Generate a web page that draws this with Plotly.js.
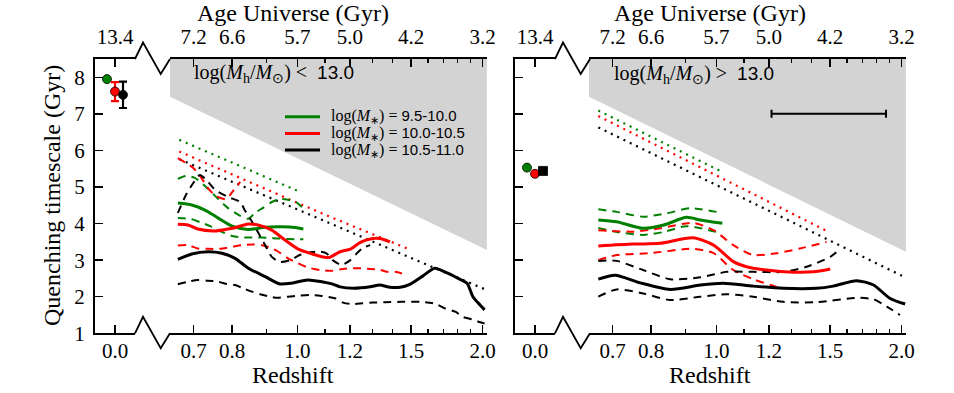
<!DOCTYPE html>
<html>
<head>
<meta charset="utf-8">
<script src="https://cdn.plot.ly/plotly-3.0.1.min.js"></script>
<style>
  html, body { margin: 0; padding: 0; background: #fff; }
  #chart { width: 954px; height: 393px; }
</style>
</head>
<body>
<div id="chart"></div>
<script>
// ---- data: x = age of the Universe (Gyr), y = quenching timescale (Gyr) ----
const zTicks = [0.7, 0.8, 1.0, 1.2, 1.5, 2.0];
const zTickLabels = ['0.7', '0.8', '1.0', '1.2', '1.5', '2.0'];
const zMinor = [0.9, 1.1, 1.3, 1.4, 1.6, 1.7, 1.8, 1.9];
const ageLabels = ['7.2', '6.6', '5.7', '5.0', '4.2', '3.2'];

const massBins = ['9.5-10.0', '10.0-10.5', '10.5-11.0'];
const binColors = ['#008000', '#ff0000', '#000000'];

// log(Mh/Msun) < 13.0
const lowGreenDot = [[7.36,6.29],[5.72,4.87]];
const lowRedDot = [[7.36,5.97],[5.42,4.28],[4.23,3.30]];
const lowBlackDot = [[7.36,5.76],[3.17,2.18]];

const lowGreenSolid = [[7.38,4.56],[7.19,4.51],[7.01,4.37],[6.83,4.15],[6.64,3.93],[6.42,3.84],[6.19,3.90],[5.96,3.91],[5.78,3.89],[5.67,3.85]];
const lowGreenUp = [[7.38,5.22],[7.27,5.30],[7.15,5.25],[7.01,5.03],[6.87,4.75],[6.70,4.43],[6.53,4.21],[6.42,4.13],[6.33,4.29],[6.22,4.43],[6.10,4.59],[5.99,4.67],[5.88,4.65],[5.77,4.59],[5.69,4.45]];
const lowGreenLo = [[7.38,4.15],[7.21,4.13],[7.08,4.04],[6.94,3.93],[6.81,3.80],[6.64,3.66],[6.47,3.62],[6.23,3.62],[5.99,3.59],[5.76,3.57],[5.67,3.57]];

const lowRedSolid = [[7.38,3.98],[7.24,3.96],[7.11,3.85],[6.87,3.80],[6.64,3.87],[6.42,3.99],[6.29,3.96],[6.10,3.82],[5.92,3.55],[5.74,3.30],[5.55,3.17],[5.38,3.08],[5.31,3.08],[5.17,3.23],[5.03,3.30],[4.90,3.48],[4.76,3.58],[4.63,3.59],[4.49,3.50]];
const lowRedUp = [[7.38,5.79],[7.27,5.66],[7.17,5.52],[7.06,5.25],[6.97,4.97],[6.86,4.75],[6.72,4.67],[6.64,4.86],[6.53,5.14]];
const lowRedLo = [[7.38,3.40],[7.24,3.41],[7.11,3.32],[6.97,3.31],[6.81,3.31],[6.63,3.37],[6.51,3.41],[6.36,3.43],[6.23,3.41],[6.10,3.32],[6.01,3.23],[5.88,3.05],[5.74,2.91],[5.61,2.80],[5.44,2.73],[5.28,2.71],[5.13,2.76],[4.94,2.78],[4.76,2.76],[4.63,2.74],[4.53,2.68],[4.42,2.68],[4.29,2.61]];

const lowBlackSolid = [[7.38,3.02],[7.19,3.17],[6.97,3.23],[6.78,3.19],[6.60,3.05],[6.42,2.78],[6.19,2.55],[5.99,2.35],[5.83,2.37],[5.61,2.46],[5.42,2.41],[5.28,2.35],[5.17,2.27],[4.99,2.23],[4.76,2.27],[4.63,2.32],[4.49,2.26],[4.35,2.26],[4.22,2.34],[4.04,2.57],[3.88,2.78],[3.71,2.65],[3.56,2.50],[3.44,2.37],[3.36,2.00],[3.26,1.77],[3.20,1.64]];
const lowBlackUp = [[7.38,4.29],[7.27,4.78],[7.17,5.11],[7.08,5.33],[6.99,5.19],[6.87,4.92],[6.70,4.73],[6.53,4.59],[6.47,4.37],[6.40,4.15],[6.29,3.77],[6.19,3.41],[6.10,3.09],[5.99,2.95],[5.85,3.00],[5.72,3.14],[5.55,3.22],[5.44,3.23],[5.35,3.18],[5.27,3.00],[5.15,2.87],[5.03,3.00],[4.94,3.19],[4.86,3.33],[4.76,3.41]];
const lowBlackLo = [[7.38,2.34],[7.24,2.41],[7.11,2.46],[6.98,2.44],[6.83,2.41],[6.71,2.35],[6.60,2.32],[6.49,2.23],[6.37,2.14],[6.26,2.07],[6.12,2.00],[6.02,1.97],[5.88,2.00],[5.74,2.03],[5.58,2.05],[5.42,2.02],[5.24,1.96],[5.13,1.84],[5.01,1.80],[4.86,1.82],[4.72,1.84],[4.56,1.85],[4.35,1.86],[4.08,1.86],[3.92,1.83],[3.85,1.79],[3.74,1.68],[3.60,1.59],[3.50,1.45],[3.37,1.38],[3.26,1.30],[3.20,1.27]];

// log(Mh/Msun) > 13.0
const highGreenDot = [[7.36,7.09],[5.68,5.42]];
const highRedDot = [[7.36,6.94],[4.23,3.78]];
const highBlackDot = [[7.36,6.63],[3.18,2.53]];

const highGreenSolid = [[7.36,4.10],[7.11,4.05],[6.75,3.87],[6.47,3.96],[6.16,4.17],[5.97,4.10],[5.67,4.01]];
const highGreenUp = [[7.36,4.39],[7.11,4.32],[6.75,4.19],[6.43,4.28],[6.11,4.42],[5.75,4.32]];
const highGreenLo = [[7.36,3.88],[7.11,3.77],[6.75,3.69],[6.47,3.77],[6.16,3.93],[5.75,3.77]];

const highRedSolid = [[7.36,3.39],[6.88,3.44],[6.52,3.46],[6.07,3.61],[5.79,3.41],[5.52,2.96],[5.34,2.82],[5.07,2.73],[4.70,2.67],[4.43,2.68],[4.20,2.76]];
const highRedUp = [[7.36,3.82],[6.88,3.78],[6.52,3.87],[6.07,4.02],[5.79,3.82],[5.52,3.41],[5.25,3.14],[4.93,3.19],[4.61,3.32],[4.25,3.50]];
const highRedLo = [[7.36,3.00],[7.11,3.14],[6.66,3.19],[6.07,3.31],[5.79,3.19],[5.52,2.73],[5.25,2.48],[4.93,2.27],[4.84,2.23]];

const highBlackSolid = [[7.36,2.48],[7.13,2.59],[6.79,2.38],[6.38,2.20],[5.97,2.32],[5.66,2.37],[5.25,2.29],[4.84,2.23],[4.39,2.23],[4.16,2.29],[3.84,2.44],[3.61,2.32],[3.39,1.96],[3.18,1.80]];
const highBlackUp = [[7.36,2.98],[7.11,2.98],[6.75,2.73],[6.38,2.48],[5.97,2.53],[5.61,2.68],[5.25,2.68],[4.84,2.68],[4.52,2.82],[4.20,3.09],[4.11,3.23]];
const highBlackLo = [[7.36,2.00],[7.11,2.20],[6.75,2.09],[6.38,1.91],[5.97,2.00],[5.61,2.07],[5.25,2.00],[4.84,1.86],[4.39,1.85],[3.84,1.97],[3.61,1.93],[3.43,1.73],[3.25,1.50]];

// z = 0 reference points (offset slightly in z so they do not overlap)
const zeroOffset = [-0.04, 0, 0.04];
const lowZeroTau = [7.95, 7.61, 7.52];
const lowZeroErr = [0, 0.26, 0.36];
const highZeroTau = [5.53, 5.36, 5.44];
const highZeroSymbols = ['circle', 'circle', 'square'];

// age-of-universe limit (grey, excluded region)
const limitAge = [7.49, 3.17];
const lowLimitTau = [7.47, 3.28];
const highLimitTau = [7.47, 3.23];

// typical error bar, right panel
const typErrAge = [4.22];
const typErrTau = [7.0];
const typErrHalf = [0.78];

// ---- helpers ----
// flat LCDM, H0 = 70, Om = 0.3
function ageAt(z) {
  return 11.131 * Math.asinh(1.52753 * Math.pow(1 + z, -1.5));
}
const W = 954, H = 393;
const fx = p => p / W;
const fy = p => 1 - p / H;

const serif = 'Liberation Serif';
const sans = 'Liberation Sans';
const xRange = [7.487, 3.168];
const zeroRange = [-0.1, 0.1];
const yRange = [1, 8.5];

function curve(pts, color, kind, xa, ya) {
  const line = {color: color};
  if (kind === 'solid') { line.width = 3; line.shape = 'spline'; line.smoothing = 0.7; }
  if (kind === 'dash') { line.width = 2; line.dash = '8px,6px'; line.shape = 'spline'; line.smoothing = 0.7; }
  if (kind === 'dot') { line.width = 2.2; line.dash = '2px,5px'; }
  return {x: pts.map(p => p[0]), y: pts.map(p => p[1]), mode: 'lines', line: line,
          xaxis: xa, yaxis: ya, showlegend: false, hoverinfo: 'skip'};
}

function limitFill(tau, xa, ya) {
  return {x: [limitAge[0], limitAge[1], limitAge[1], limitAge[0]],
          y: [tau[0], tau[1], yRange[1], yRange[1]],
          fill: 'toself', fillcolor: '#d3d3d3', mode: 'lines', line: {width: 0},
          xaxis: xa, yaxis: ya, showlegend: false, hoverinfo: 'skip'};
}

const traces = [];
traces.push(limitFill(lowLimitTau, 'x', 'y'));
traces.push(limitFill(highLimitTau, 'x5', 'y3'));

const lowSets = [
  [lowGreenDot, lowGreenUp, lowGreenLo, lowGreenSolid],
  [lowRedDot, lowRedUp, lowRedLo, lowRedSolid],
  [lowBlackDot, lowBlackUp, lowBlackLo, lowBlackSolid]
];
const highSets = [
  [highGreenDot, highGreenUp, highGreenLo, highGreenSolid],
  [highRedDot, highRedUp, highRedLo, highRedSolid],
  [highBlackDot, highBlackUp, highBlackLo, highBlackSolid]
];

[[lowSets, 'x', 'y'], [highSets, 'x5', 'y3']].forEach(([sets, xa, ya]) => {
  sets.forEach((s, i) => traces.push(curve(s[0], binColors[i], 'dot', xa, ya)));
  sets.forEach((s, i) => {
    traces.push(curve(s[1], binColors[i], 'dash', xa, ya));
    traces.push(curve(s[2], binColors[i], 'dash', xa, ya));
  });
  sets.forEach((s, i) => traces.push(curve(s[3], binColors[i], 'solid', xa, ya)));
});

// z = 0 points
binColors.forEach((c, i) => {
  const t = {x: [zeroOffset[i]], y: [lowZeroTau[i]], mode: 'markers', xaxis: 'x2', yaxis: 'y',
    marker: {color: c, size: 9, symbol: 'circle', line: {color: '#000', width: 0.8}},
    showlegend: false, hoverinfo: 'skip'};
  if (lowZeroErr[i] > 0) {
    t.error_y = {type: 'data', array: [lowZeroErr[i]], color: c, thickness: 2.2, width: 4};
  }
  traces.push(t);
  traces.push({x: [zeroOffset[i]], y: [highZeroTau[i]], mode: 'markers', xaxis: 'x6', yaxis: 'y3',
    marker: {color: c, size: 9, symbol: highZeroSymbols[i], line: {color: '#000', width: 0.8}},
    showlegend: false, hoverinfo: 'skip'});
});

// typical uncertainty
traces.push({x: typErrAge, y: typErrTau, mode: 'markers', xaxis: 'x5', yaxis: 'y3',
  marker: {color: 'rgba(0,0,0,0)', size: 2},
  error_x: {type: 'data', array: typErrHalf, color: '#000', thickness: 2, width: 4},
  showlegend: false, hoverinfo: 'skip'});

// empty traces so the top (age) axes get drawn
[['x3', 'y'], ['x4', 'y'], ['x7', 'y3'], ['x8', 'y3']].forEach(([xa, ya]) =>
  traces.push({x: [], y: [], mode: 'markers', xaxis: xa, yaxis: ya, showlegend: false, hoverinfo: 'skip'}));

// ---- axes ----
const tickFont = {family: serif, size: 21, color: '#000'};
const zTickAges = zTicks.map(ageAt);
const zMinorAges = zMinor.map(ageAt);

function mainX(domain, anchor) {
  return {domain: domain, range: xRange, anchor: anchor,
    tickmode: 'array', tickvals: zTickAges, ticktext: zTickLabels,
    ticks: 'inside', ticklen: 8, tickwidth: 1.5, tickcolor: '#000',
    minor: {tickmode: 'array', tickvals: zMinorAges, ticks: 'inside', ticklen: 4, tickwidth: 1.2, tickcolor: '#000'},
    showline: true, linewidth: 2, linecolor: '#000', mirror: 'allticks',
    showgrid: false, zeroline: false, tickfont: tickFont, ticklabelstandoff: -3};
}
function topX(over, anchor, range, vals, text) {
  return {overlaying: over, side: 'top', anchor: anchor, range: range,
    tickmode: 'array', tickvals: vals, ticktext: text, ticks: '',
    showline: false, showgrid: false, zeroline: false, tickfont: tickFont, ticklabelstandoff: 10};
}
function insetX(domain, anchor) {
  return {domain: domain, range: zeroRange, anchor: anchor,
    tickmode: 'array', tickvals: [0], ticktext: ['0.0'],
    ticks: 'inside', ticklen: 8, tickwidth: 1.5, tickcolor: '#000',
    showline: true, linewidth: 2, linecolor: '#000', mirror: 'allticks',
    showgrid: false, zeroline: false, tickfont: tickFont, ticklabelstandoff: -3};
}
function yAx(anchor, side, labels, over) {
  const a = {range: yRange, anchor: anchor, side: side,
    tickmode: 'array', tickvals: [1, 2, 3, 4, 5, 6, 7, 8],
    ticks: 'inside', ticklen: 8, tickwidth: 1.5, tickcolor: '#000',
    showline: true, linewidth: 2, linecolor: '#000',
    showgrid: false, zeroline: false, showticklabels: labels, tickfont: tickFont, ticklabelstandoff: 4};
  if (over) a.overlaying = over; else a.domain = [fy(333.3), fy(59)];
  return a;
}

// ---- decorations: axis breaks, titles, legend ----
function zig(x0, y0) {
  const pts = [[x0, y0], [x0 + 8, y0 - 16.5], [x0 + 25.7, y0 + 15], [x0 + 35, y0]];
  return {type: 'path', xref: 'paper', yref: 'paper',
    path: 'M' + pts.map(p => fx(p[0]).toFixed(5) + ',' + fy(p[1]).toFixed(5)).join('L'),
    line: {color: '#000', width: 1.8}};
}
const shapes = [zig(135, 59), zig(135, 333.3), zig(555, 59), zig(555, 333.3)];

const legendY = [116.7, 133.5, 150];
binColors.forEach((c, i) => shapes.push({type: 'line', xref: 'paper', yref: 'paper',
  x0: fx(285), x1: fx(320), y0: fy(legendY[i]), y1: fy(legendY[i]), line: {color: c, width: 3}}));

function note(x, y, text, size, extra) {
  return Object.assign({xref: 'paper', yref: 'paper', x: fx(x), y: fy(y), text: text, showarrow: false,
    xanchor: 'center', yanchor: 'middle',
    font: {family: serif, size: size, color: '#000'}}, extra || {});
}
const haloLow = 'log(<i>M</i><sub>h</sub>/<i>M</i><sub>⊙</sub>) &lt;&nbsp; <span style="font-family:' + sans + ';font-size:19px">13.0</span>';
const haloHigh = 'log(<i>M</i><sub>h</sub>/<i>M</i><sub>⊙</sub>) &gt;&nbsp; <span style="font-family:' + sans + ';font-size:19px">13.0</span>';

const annotations = [
  note(52, 196, 'Quenching timescale (Gyr)', 24, {textangle: -90}),
  note(293, 375, 'Redshift', 24),
  note(710, 375, 'Redshift', 24),
  note(293, 13, 'Age Universe (Gyr)', 24),
  note(710, 13, 'Age Universe (Gyr)', 24),
  note(192, 73, haloLow, 20, {xanchor: 'left'}),
  note(612, 74, haloHigh, 20, {xanchor: 'left'})
];
massBins.forEach((m, i) => annotations.push(note(329, legendY[i], 'log(<i>M</i><sub>∗</sub>) = <span style="font-family:' + sans + ';font-size:15px">' + m + '</span>', 16, {xanchor: 'left'})));

const layout = {
  width: W, height: H,
  margin: {l: 0, r: 0, t: 0, b: 0, autoexpand: false},
  paper_bgcolor: '#fff', plot_bgcolor: 'rgba(0,0,0,0)',
  showlegend: false,
  xaxis: mainX([fx(170), fx(487)], 'y'),
  xaxis2: insetX([fx(95), fx(135)], 'y'),
  xaxis3: topX('x', 'y', xRange, zTickAges, ageLabels),
  xaxis4: topX('x2', 'y', zeroRange, [0], ['13.4']),
  xaxis5: mainX([fx(589), fx(906)], 'y3'),
  xaxis6: insetX([fx(515), fx(555)], 'y3'),
  xaxis7: topX('x5', 'y3', xRange, zTickAges, ageLabels),
  xaxis8: topX('x6', 'y3', zeroRange, [0], ['13.4']),
  yaxis: yAx('x2', 'left', true),
  yaxis2: yAx('x', 'right', false, 'y'),
  yaxis3: yAx('x6', 'left', false),
  yaxis4: yAx('x5', 'right', false, 'y3'),
  shapes: shapes,
  annotations: annotations
};

Plotly.newPlot('chart', traces, layout, {displayModeBar: false, staticPlot: true});
</script>
</body>
</html>
